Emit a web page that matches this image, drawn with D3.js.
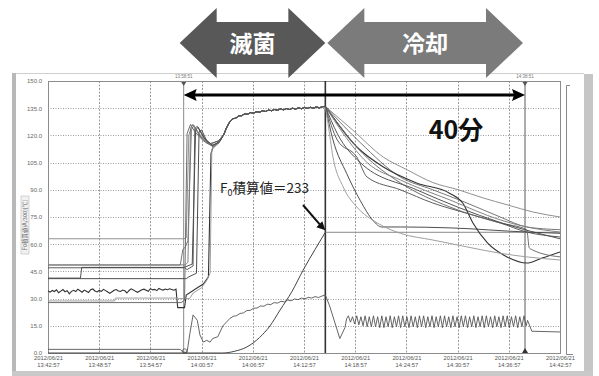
<!DOCTYPE html>
<html>
<head>
<meta charset="utf-8">
<script src="https://cdn.jsdelivr.net/npm/d3@7"></script>
<style>
  body { margin: 0; background: #fff; }
  svg { display: block; }
</style>
</head>
<body>
<svg id="chart" width="599" height="376"></svg>
<script>
// ---- data (time in minutes after 13:42:57) ----
const dateLabel = "2012/06/21";
const tickMinutes = [0, 6, 12, 18, 24, 30, 36, 42, 48, 54, 60];
const tickTimes = ["13:42:57", "13:48:57", "13:54:57", "14:00:57", "14:06:57", "14:12:57",
                   "14:18:57", "14:24:57", "14:30:57", "14:36:57", "14:42:57"];
const yTicks = [0, 15, 30, 45, 60, 75, 90, 105, 120, 135, 150];
const yTitle = "F0積算値(A/300)[℃]";

// cursors: start of sterilisation, end of sterilisation, end of cooling
const cursorMinutes = [15.9, 32.5, 55.9];
const cursorTimes = ["13:58:51", "", "14:38:51"];
const phaseNames = ["滅菌", "冷却"];
const f0Total = 233;

// temperature sensors: level before steam, rise, common plateau, cooling
const preCurves = [
  [[0, 63], [15.9, 63]],
  [[0, 48.5], [15.5, 48.5]],
  [[0, 47], [16.0, 47]],
  [[0, 41], [16.2, 41]],
  null, // sensor 5 uses noisyValues
  [[0, 28.7], [7.8, 28.7], [7.9, 30.3], [15.1, 30.3]],
  [[0, 27.8], [15.6, 27.8]],
  [[0, 48.6], [16.1, 48.6]],
  [[0, 41.3], [3.8, 41.3], [3.95, 47.2], [15.8, 47.2]]
];
const noisyValues = [34.2,33.6,34.5,33.9,34.8,33.2,34.1,35.0,33.8,34.4,
                     32.6,34.0,34.6,33.9,35.2,34.3,33.5,34.7,34.1,33.4,
                     34.9,35.3,34.2,33.7,34.5,34.0,35.1,34.4,33.6,32.9,
                     33.8,34.6,35.0,34.2,33.9,34.7,34.3,33.1,34.5,35.4,
                     34.8,34.1,33.5,34.2,34.9,35.2,34.6,34.0,35.5,34.8,
                     35.1,34.4,35.6,35.0,34.7,35.3,34.9,35.4,35.0,34.6,35.2];
const noisyStep = 0.25;

const riseCurves = [
  [[16.2,63.5],[16.5,120],[16.9,126],[17.3,124],[18.0,118.5],[19.0,115],[20.0,117]],
  [[15.8,57],[16.1,58.5],[16.4,62],[16.8,123],[17.1,125.5],[17.6,121],[18.5,116],[19.3,114],[20.0,116.5]],
  [[16.3,46],[17.0,48],[17.2,124],[17.5,125],[18.2,119],[19.0,115.5],[20.0,117]],
  [[16.5,42],[17.4,44],[17.7,122],[18.0,123],[18.6,117],[19.4,113.5],[20.1,116.5]],
  [[15.2,25],[16.0,25],[16.2,32],[17.5,36],[18.2,38],[18.8,42],[19.1,110],[19.3,113],[20.0,116]],
  [[15.3,30],[16.6,30],[17.0,33],[18.0,36],[18.6,40],[19.0,44],[19.2,112],[19.5,114],[20.2,117]],
  [[16.0,29],[16.3,121],[16.7,126],[17.2,122],[18.2,117],[19.2,114.5],[20.0,116]],
  [[16.4,50],[16.7,124],[17.0,126],[17.6,121.5],[18.6,116.5],[19.5,114],[20.2,117.5]],
  [[16.1,47.5],[16.9,49],[17.3,123],[17.6,124.5],[18.4,118],[19.3,114.5],[20.1,116.5]]
];

const plateauStart = 20.6, plateauStep = 0.35;
const plateauValues = [120.5,124.5,127.5,129.2,129.5,130.8,130.9,131.9,131.7,132.6,
                       132.3,133.1,132.8,133.6,133.2,134.0,133.6,134.3,133.9,134.6,
                       134.1,134.8,134.3,135.0,134.5,135.2,134.7,135.4,134.9,135.5,
                       135.0,135.7,135.2,135.8,136.0];

const coolCurves = [
  [[35.7,123],[39.3,108],[42.1,101],[45.1,94],[48.1,90],[51.0,85.5],[53.9,81.6],[56.8,77.8],[60,75]],
  [[36.6,116],[41.3,97],[45.1,90],[49.1,82.7],[53.0,75],[56.1,69.5],[60,68]],
  [[33.9,117.5],[36.2,108],[37.4,97],[41.3,90],[45.1,82.7],[49.1,77],[53.0,71.7],[56.1,66.7],[60,64]],
  [[33.4,117.5],[35.0,99],[36.6,84],[38.1,73],[39.1,69.5],[41.3,69.5],[47.1,69],[56.1,66.7],[60,66]],
  [[36.2,113.6],[39.3,102.6],[43.2,93.8],[47.1,88],[48.6,82.7],[49.8,71.7],[51.5,60.7],[53.8,53],[56.1,49.6],[57.7,52],[60,55.7]],
  [[32.8,127],[33.4,108],[34.6,91.5],[36.2,80.5],[38.6,71.7],[41.3,66],[45.1,62.3],[49.1,58.5],[53.0,55],[56.1,53],[60,51.3]],
  [[36.9,110],[41.3,93.8],[47.1,80.5],[53.0,71.7],[56.1,68],[56.4,58],[56.8,56.8],[60,53]],
  [[34.6,121],[37.4,105],[41.3,95.4],[47.1,84.4],[53.0,73.4],[56.1,69.5],[60,66.7]],
  [[33.9,121],[36.6,105],[43.2,90],[53.0,72],[60,63]]
];
const sensorColors = ["#8a8a8a", "#707070", "#555", "#444", "#333", "#9a9a9a", "#666", "#7c7c7c", "#4a4a4a"];

// chamber channel
const chamberHead = [[0,2],[15.5,2],[15.8,0.5],[16.3,0.3],[16.6,10],[17.0,21],[17.5,18],[17.8,10],
                     [18.2,6],[18.6,7],[19.0,6],[19.3,8],[19.9,9],[20.5,15],[21.0,17.5]];
const chamberRippleStart = 21.3, chamberRippleStep = 0.4;
const chamberRipple = [19,20.2,20.6,21.8,22.1,23.4,23.5,24.7,24.8,25.9,25.8,26.9,26.7,27.8,
                       27.5,28.5,28.2,29.2,28.8,29.8,29.4,30.3,29.9,30.7,30.3,31.1,30.6,31.4];
const chamberDrop = [[32.5,32],[33.0,26],[34.2,8],[34.8,14],[35.0,19]];
const chamberTeethStart = 35.2, chamberTeethStep = 0.245;
const chamberTeeth = [20.5,17,20,16,20.5,15.5,20,15,20.5,14.5,20,14.5,20.5,14.5,20,14,20.5,14,20,14.5,
                      20.5,14,20,14.5,20.5,14,20.5,14.5,20,14,20.5,14.5,20,14,20.5,14.5,20.5,14,20,14.5,
                      20.5,14,20,14.5,20.5,14,20.5,14.5,20,14,20.5,14.5,20,14,20.5,14.5,20.5,14,20,14.5,
                      20.5,14,20,14.5,20.5,14,20.5,14.5,20,14,20.5,14.5,20,14,20.5,14.5,20.5,14,20,14.5,
                      20.5,14,20,14.5,20.5,15];
const chamberTail = [[56.2,18],[56.7,12],[60,11.6]];

// accumulated F0 (own units)
const f0Curve = [[0,0],[20.5,0],[21.9,3.5],[23.3,11.6],[24.8,30],[26.0,52],[27.2,83],
                 [28.6,119],[29.9,160],[31.3,200],[32.5,233]];
const f0Hold = [[32.5,233],[60,233]];

// ---- drawing ----
const svg = d3.select("#chart");
const plot = { l: 48, r: 560, t: 81, b: 353 };
const x = d3.scaleLinear().domain([0, 60]).range([plot.l, plot.r]);
const y = d3.scaleLinear().domain([0, 150]).range([plot.b, plot.t]);
const yF0 = d3.scaleLinear().domain([0, 525]).range([plot.b, plot.t]);

// window panel
svg.append("rect").attr("x", 12).attr("y", 73).attr("width", 4).attr("height", 303).attr("fill", "#b8b8b8");
svg.append("line").attr("x1", 16).attr("x2", 584).attr("y1", 73.5).attr("y2", 73.5).attr("stroke", "#cfcfcf");
svg.append("rect").attr("x", 584).attr("y", 74).attr("width", 9).attr("height", 302).attr("fill", "#c6c6c6");
svg.append("rect").attr("x", 12).attr("y", 371).attr("width", 581).attr("height", 5).attr("fill", "#c9c9c9");
svg.append("path").attr("d", "M570,85.5H566.5V354.5H573").attr("fill", "none").attr("stroke", "#888");

// grid
const grid = svg.append("g");
grid.selectAll("line.h").data(yTicks.filter(v => v > 0 && v < 150)).join("line")
  .attr("x1", plot.l).attr("x2", plot.r)
  .attr("y1", d => Math.round(y(d)) + 0.5).attr("y2", d => Math.round(y(d)) + 0.5)
  .attr("stroke", "#9a9a9a").attr("stroke-dasharray", "1,1.5");
grid.selectAll("line.v").data(tickMinutes.filter(v => v > 0 && v < 60)).join("line")
  .attr("x1", d => Math.round(x(d)) + 0.5).attr("x2", d => Math.round(x(d)) + 0.5)
  .attr("y1", plot.t).attr("y2", plot.b)
  .attr("stroke", "#9a9a9a").attr("stroke-dasharray", "2,1.5");
svg.append("rect").attr("x", plot.l + 0.5).attr("y", plot.t + 0.5)
  .attr("width", plot.r - plot.l).attr("height", plot.b - plot.t)
  .attr("fill", "none").attr("stroke", "#8c8c8c");

// axes
const yAxis = svg.append("g").attr("transform", `translate(${plot.l - 3},0)`)
  .call(d3.axisLeft(y).tickValues(yTicks).tickFormat(d3.format(".1f")).tickSize(0));
yAxis.select(".domain").remove();
yAxis.selectAll("text").attr("font-size", 6).attr("fill", "#666").attr("font-family", "Liberation Sans, Arial");

const xAxis = svg.append("g").attr("transform", `translate(0,${plot.b})`)
  .call(d3.axisBottom(x).tickValues(tickMinutes).tickSize(0).tickFormat(""));
xAxis.select(".domain").remove();
xAxis.selectAll(".tick text").each(function (d, i) {
  const t = d3.select(this).attr("y", 0).attr("dy", null)
    .attr("font-size", 5.8).attr("fill", "#555").attr("font-family", "Liberation Sans, Arial");
  t.append("tspan").attr("x", 0).attr("y", 7).text(dateLabel);
  t.append("tspan").attr("x", 0).attr("y", 13.5).text(tickTimes[i]);
});

// y title
svg.append("rect").attr("x", 21).attr("y", 196).attr("width", 8).attr("height", 58)
  .attr("fill", "#f1f1f1").attr("stroke", "#bbb").attr("stroke-width", 0.6);
svg.append("text").attr("transform", "translate(27,225) rotate(-90)")
  .attr("text-anchor", "middle").attr("font-size", 5.5).attr("fill", "#666")
  .attr("font-family", "Noto Sans CJK JP").text(yTitle);

// cursor lines and markers
const cursorStyle = [["#8a8a8a", 1], ["#333", 1.6], ["#6a6a6a", 1.1]];
cursorMinutes.forEach((m, i) => {
  const cx = x(m);
  svg.append("line").attr("x1", cx).attr("x2", cx).attr("y1", plot.t).attr("y2", plot.b)
    .attr("stroke", cursorStyle[i][0]).attr("stroke-width", cursorStyle[i][1]);
  if (cursorTimes[i]) {
    svg.append("path").attr("d", `M${cx - 2.5},${plot.t + 1}H${cx + 2.5}L${cx},${plot.t + 5}Z`).attr("fill", "#555");
    svg.append("text").attr("x", cx).attr("y", 77.5).attr("text-anchor", "middle")
      .attr("font-size", 4.5).attr("fill", "#777").attr("font-family", "Liberation Sans, Arial")
      .text(cursorTimes[i]);
  }
});
svg.append("path").attr("d", `M${x(cursorMinutes[2]) - 3},${plot.b}H${x(cursorMinutes[2]) + 3}L${x(cursorMinutes[2])},${plot.b - 5}Z`).attr("fill", "#333");
svg.append("circle").attr("cx", x(cursorMinutes[0]) + 1).attr("cy", plot.b - 2).attr("r", 2.2)
  .attr("fill", "none").attr("stroke", "#555").attr("stroke-width", 0.8);

// lines
const line = d3.line().x(d => x(d[0])).y(d => y(d[1]));
const smooth = d3.line().x(d => x(d[0])).y(d => y(d[1])).curve(d3.curveMonotoneX);
const lines = svg.append("g").attr("fill", "none");

// chamber channel
const chamber = [].concat(
  chamberHead,
  chamberRipple.map((v, i) => [chamberRippleStart + i * chamberRippleStep, v]),
  chamberDrop,
  chamberTeeth.map((v, i) => [chamberTeethStart + i * chamberTeethStep, v]),
  chamberTail);
lines.append("path").attr("d", line(chamber)).attr("stroke", "#555").attr("stroke-width", 0.9);

// F0
const f0Line = d3.line().x(d => x(d[0])).y(d => yF0(d[1])).curve(d3.curveMonotoneX);
lines.append("path").attr("d", f0Line(f0Hold)).attr("stroke", "#8a8a8a").attr("stroke-width", 1);
lines.append("path").attr("d", f0Line(f0Curve)).attr("stroke", "#444").attr("stroke-width", 1);

// temperatures: heating part drawn straight, cooling part smoothed
const plateau = plateauValues.map((v, i) => [plateauStart + i * plateauStep, v]);
riseCurves.forEach((rise, i) => {
  const pre = preCurves[i] || noisyValues.map((v, k) => [k * noisyStep, v]);
  const heat = [].concat(pre, rise, plateau);
  const cool = [plateau[plateau.length - 1]].concat(coolCurves[i]);
  const w = i === 4 ? 1.1 : 0.95;
  lines.append("path").attr("d", line(heat)).attr("stroke", sensorColors[i]).attr("stroke-width", w);
  lines.append("path").attr("d", smooth(cool)).attr("stroke", sensorColors[i]).attr("stroke-width", w);
});

// big span arrow between first and last cursor
const ax1 = x(cursorMinutes[0]), ax2 = x(cursorMinutes[2]), ay = 95;
svg.append("line").attr("x1", ax1 + 8).attr("x2", ax2 - 8).attr("y1", ay).attr("y2", ay)
  .attr("stroke", "#000").attr("stroke-width", 3);
svg.append("path").attr("d", `M${ax1},${ay}L${ax1 + 13},${ay - 6}L${ax1 + 11},${ay}L${ax1 + 13},${ay + 6}Z`).attr("fill", "#000");
svg.append("path").attr("d", `M${ax2},${ay}L${ax2 - 13},${ay - 6}L${ax2 - 11},${ay}L${ax2 - 13},${ay + 6}Z`).attr("fill", "#000");
svg.append("text").attr("x", 456).attr("y", 139).attr("text-anchor", "middle")
  .attr("font-size", 25).attr("font-weight", 700).attr("fill", "#111")
  .attr("font-family", "Noto Sans CJK JP")
  .text(`${Math.round(cursorMinutes[2] - cursorMinutes[0])}分`);

// F0 annotation
const f0Label = svg.append("text").attr("x", 220).attr("y", 193)
  .attr("font-size", 13.5).attr("fill", "#222").attr("font-family", "Noto Sans CJK JP");
f0Label.append("tspan").text("F");
f0Label.append("tspan").attr("font-size", 9).attr("dy", 3).text("0");
f0Label.append("tspan").attr("dy", -3).text(`積算値＝${f0Total}`);
const tipX = x(cursorMinutes[1]), tipY = yF0(f0Total) - 2;
svg.append("line").attr("x1", 303).attr("y1", 205).attr("x2", tipX - 3).attr("y2", tipY - 3)
  .attr("stroke", "#111").attr("stroke-width", 2);
svg.append("path").attr("d", `M${tipX},${tipY}L${tipX - 9},${tipY - 3}L${tipX - 3},${tipY - 9}Z`).attr("fill", "#111");

// phase block arrows
function blockArrow(x1, x2, cy) {
  const head = 37, hh = 35, bh = 21;
  return `M${x1},${cy}L${x1 + head},${cy - hh}V${cy - bh}H${x2 - head}V${cy - hh}L${x2},${cy}` +
         `L${x2 - head},${cy + hh}V${cy + bh}H${x1 + head}V${cy + hh}Z`;
}
const phaseX = [[x(cursorMinutes[0]) - 4, x(cursorMinutes[1])], [x(cursorMinutes[1]) + 2, x(cursorMinutes[2]) - 2]];
const phaseFill = ["#585858", "#7b7b7b"];
phaseNames.forEach((name, i) => {
  svg.append("path").attr("d", blockArrow(phaseX[i][0], phaseX[i][1], 43)).attr("fill", phaseFill[i]);
  svg.append("text").attr("x", (phaseX[i][0] + phaseX[i][1]) / 2).attr("y", 52)
    .attr("text-anchor", "middle").attr("font-size", 23).attr("font-weight", 700)
    .attr("fill", "#fff").attr("font-family", "Noto Sans CJK JP").text(name);
});
</script>
</body>
</html>
